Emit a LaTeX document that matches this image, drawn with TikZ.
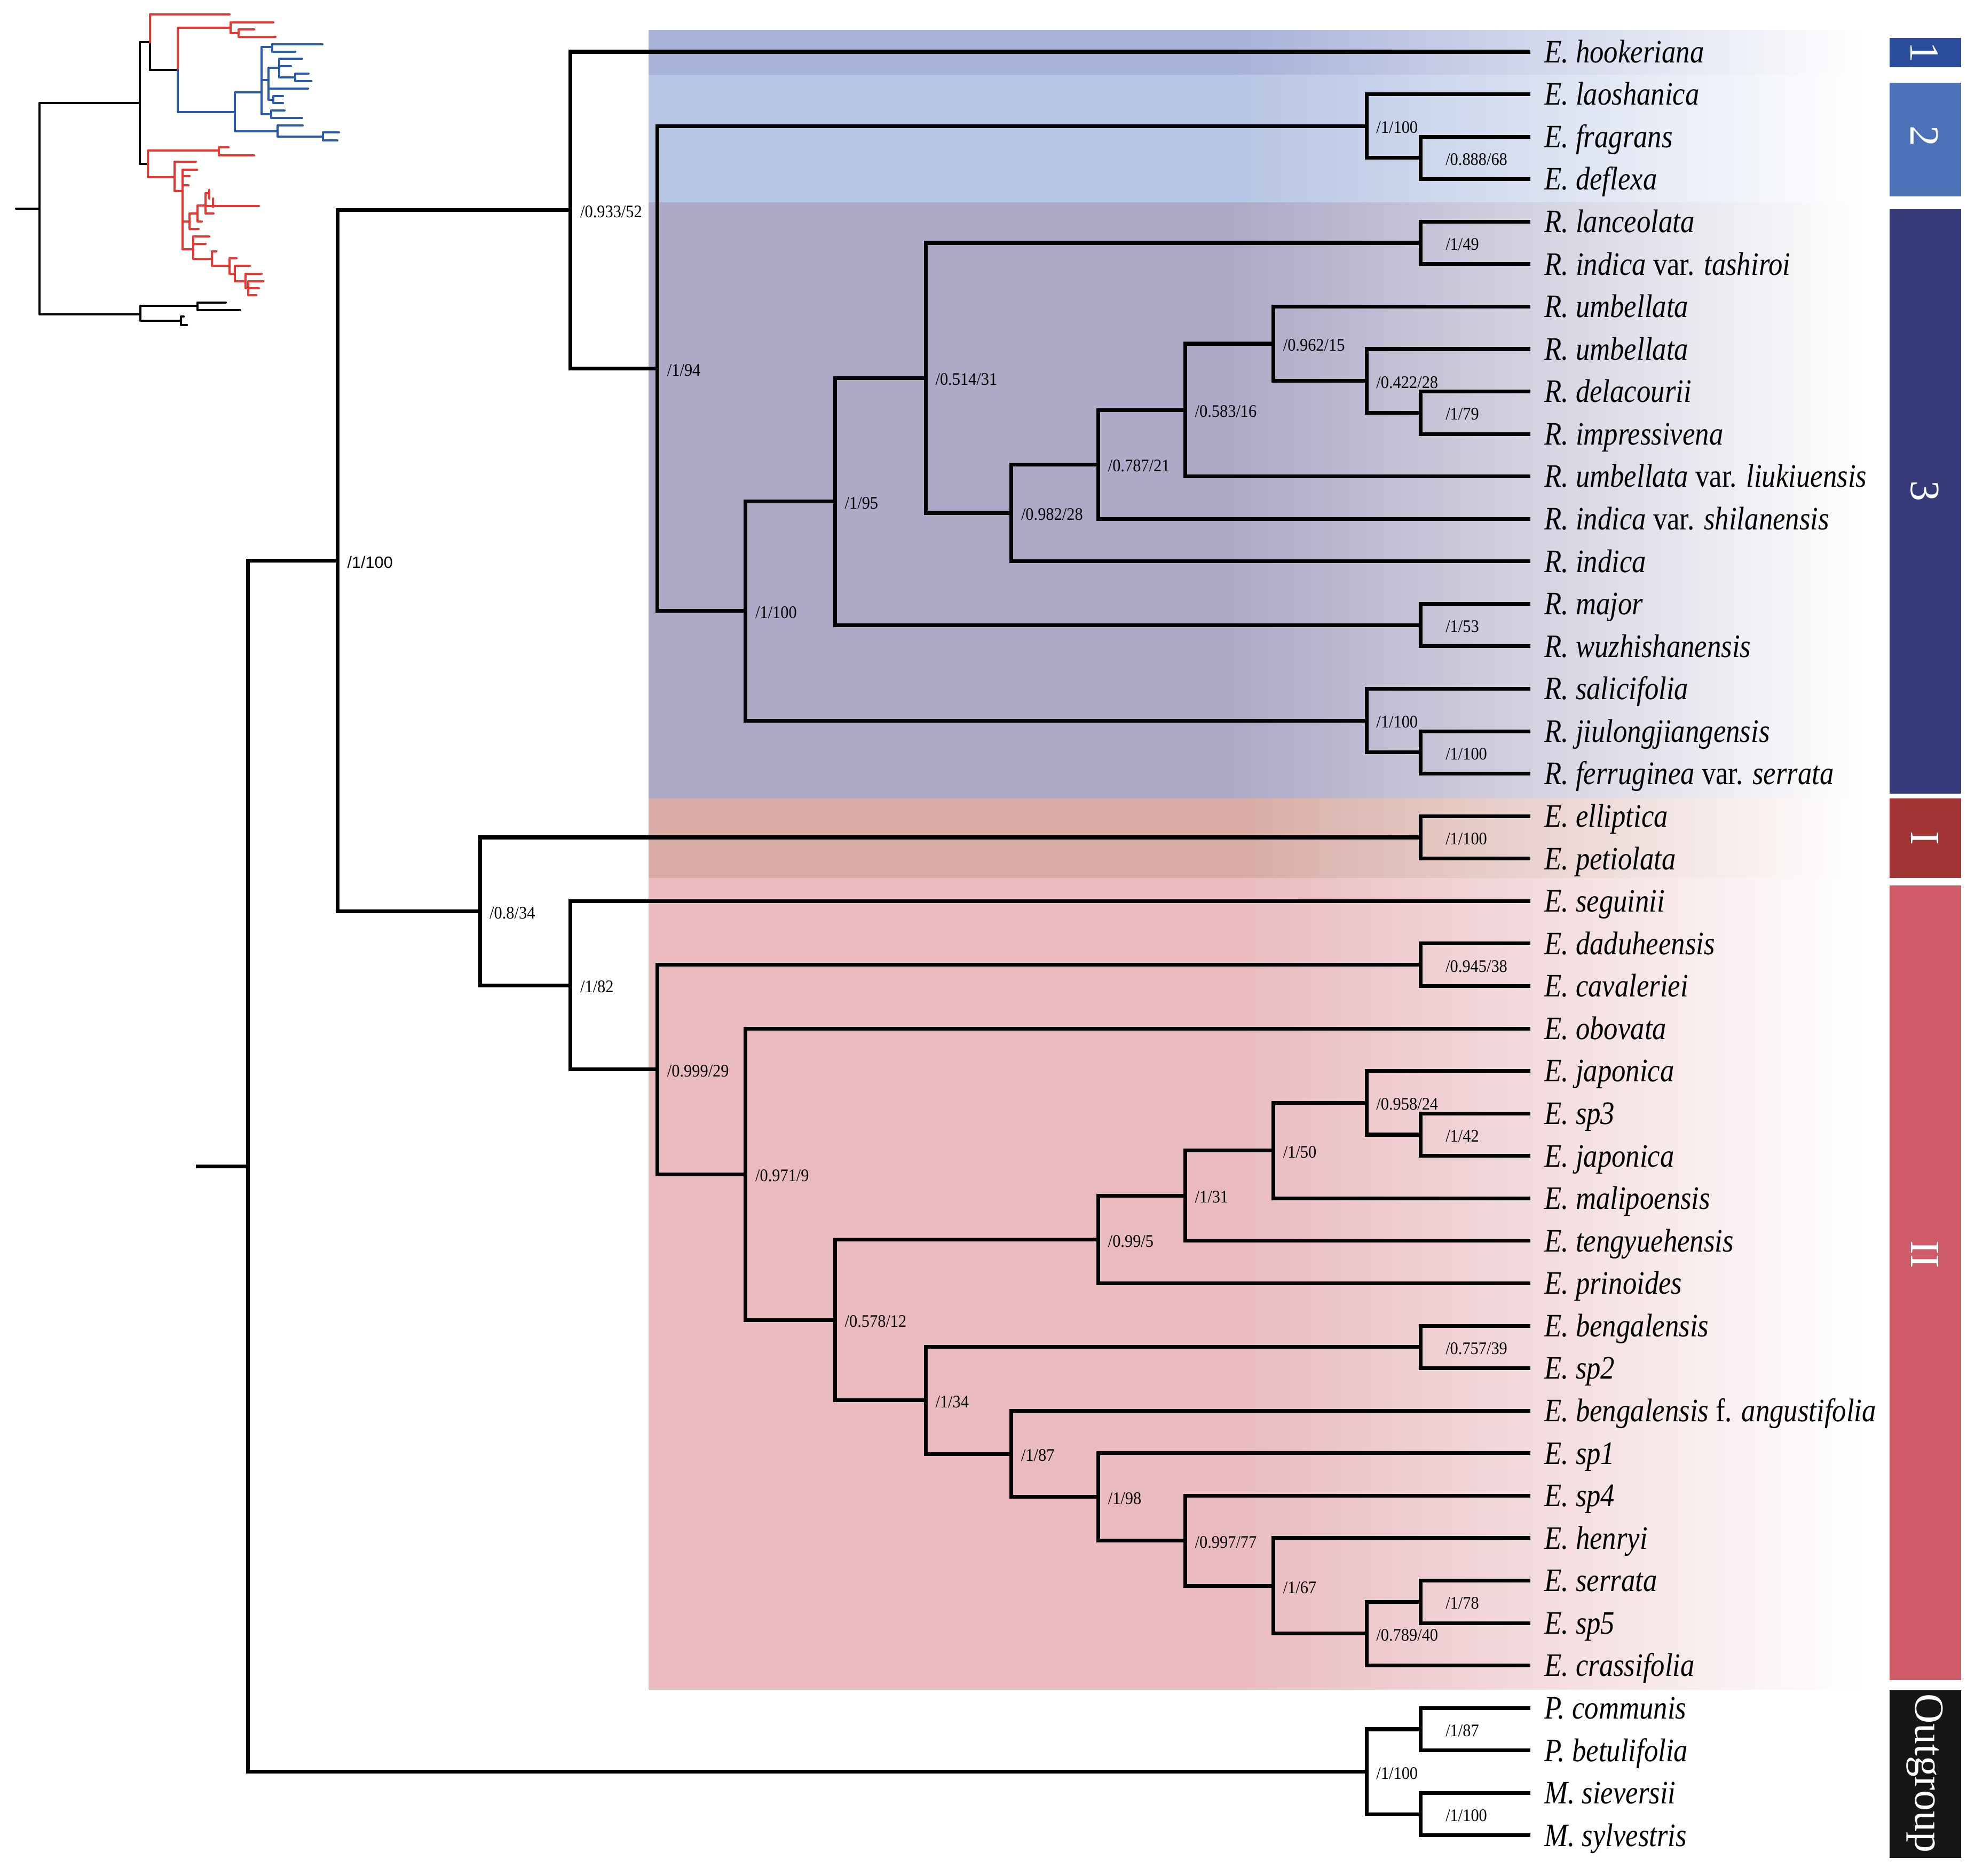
\documentclass[tikz,border=0pt]{standalone}
\usepackage{fontspec}
\setmainfont{Liberation Serif}
\newfontfamily\tipfont[FakeStretch=0.86]{Liberation Serif}
\newfontfamily\supfont[FakeStretch=0.92]{Liberation Serif}
\newfontfamily\supsans{Liberation Sans}
\definecolor{bandA}{HTML}{A7B2D9}
\definecolor{bandB}{HTML}{B6C5E4}
\definecolor{bandC}{HTML}{ACAAC6}
\definecolor{bandD}{HTML}{D8ABA4}
\definecolor{bandE}{HTML}{E9BABE}
\definecolor{barA}{HTML}{2B4C9B}
\definecolor{barB}{HTML}{4E72B8}
\definecolor{barC}{HTML}{373A78}
\definecolor{barD}{HTML}{A33434}
\definecolor{barE}{HTML}{D05B68}
\definecolor{barF}{HTML}{161616}
\definecolor{insetred}{HTML}{EE3530}
\definecolor{insetblue}{HTML}{2A5AAF}
\pgfdeclarehorizontalshading{shA}{100bp}{color(0bp)=(bandA); color(49bp)=(bandA); color(75bp)=(white); color(100bp)=(white)}
\pgfdeclarehorizontalshading{shB}{100bp}{color(0bp)=(bandB); color(49bp)=(bandB); color(75bp)=(white); color(100bp)=(white)}
\pgfdeclarehorizontalshading{shC}{100bp}{color(0bp)=(bandC); color(49bp)=(bandC); color(75bp)=(white); color(100bp)=(white)}
\pgfdeclarehorizontalshading{shD}{100bp}{color(0bp)=(bandD); color(49bp)=(bandD); color(75bp)=(white); color(100bp)=(white)}
\pgfdeclarehorizontalshading{shE}{100bp}{color(0bp)=(bandE); color(49bp)=(bandE); color(75bp)=(white); color(100bp)=(white)}
\tikzset{
  br/.style={line width=3pt, draw=black},
  tiplab/.style={anchor=base west, inner sep=0pt, yshift=-8.6pt,
    font=\tipfont\fontsize{26}{26}\selectfont\itshape},
  sup/.style={anchor=west, inner sep=0pt, xshift=7.5pt, yshift=-1.2pt,
    font=\supfont\fontsize{14}{14}\selectfont},
  supfar/.style={sup, xshift=12pt},
  barlab/.style={text=white, rotate=-90, inner sep=0pt,
    font=\fontsize{33}{33}\selectfont},
  ik/.style={line width=1.9pt, draw=black, line cap=round, line join=round},
  ir/.style={ik, draw=insetred},
  ib/.style={ik, draw=insetblue}
}
\begin{document}
\begin{tikzpicture}[x=1pt, y=-1pt]
\useasboundingbox (0,0) rectangle (1568,1489.6);
\fill[white] (0,0) rectangle (1568,1489.6);

% ---------- clade bands ----------
\foreach \s/\ya/\yb in {shA/24/59.5, shB/59.5/161, shC/161/634, shD/634/697.5, shE/697.5/1341.6}{
  \shade[shading=\s] (515,\ya) rectangle (1481,\yb);
}

% ---------- side bars ----------
\fill[barA] (1500,30) rectangle (1557,53.5);
\fill[barB] (1500,65.6) rectangle (1557,156);
\fill[barC] (1500,166) rectangle (1557,630);
\fill[barD] (1500,634) rectangle (1557,697);
\fill[barE] (1500,703) rectangle (1557,1334);
\fill[barF] (1500,1342) rectangle (1557,1475);
\node[barlab] (bl1) at (1528,41.7) {1};
\node[barlab] (bl2) at (1528,108) {2};
\node[barlab] (bl3) at (1528,390) {3};
\node[barlab] (blI) at (1528,665.5) {I};
\node[barlab] (blII) at (1528,996) {II};
\node[barlab] (blO) at (1528,1408) {Outgroup};

% ---------- main tree ----------
\begin{scope}[y=-33.72pt, yshift=-7.38pt]
\coordinate (rs) at (155.5,27.243);
\coordinate (root) at (197,27.243);
\coordinate (a1) at (268,12.986);
\coordinate (a2) at (453,4.730);
\coordinate (a3) at (522,8.460);
\coordinate (c2) at (1085,2.75);
\coordinate (c2b) at (1128,3.5);
\coordinate (c3) at (592,14.170);
\coordinate (c3a) at (663,11.590);
\coordinate (c3b) at (735,8.680);
\coordinate (c3c) at (1128,5.5);
\coordinate (c3d) at (803,11.859);
\coordinate (c3e) at (872,10.719);
\coordinate (c3f) at (941,9.4375);
\coordinate (c3g) at (1011,7.875);
\coordinate (c3h) at (1085,8.75);
\coordinate (c3i) at (1128,9.5);
\coordinate (c3j) at (1128,14.5);
\coordinate (c3k) at (1085,16.75);
\coordinate (c3l) at (1128,17.5);
\coordinate (b1) at (381,21.241);
\coordinate (bI) at (1128,19.5);
\coordinate (b2) at (453,22.983);
\coordinate (b3) at (522,24.966);
\coordinate (bd) at (1128,22.5);
\coordinate (b4) at (592,27.432);
\coordinate (b5) at (663,30.863);
\coordinate (b6) at (872,28.969);
\coordinate (b7) at (941,27.9375);
\coordinate (b8) at (1011,26.875);
\coordinate (b9) at (1085,25.75);
\coordinate (b10) at (1128,26.5);
\coordinate (b11) at (735,32.758);
\coordinate (b12) at (1128,31.5);
\coordinate (b13) at (803,34.016);
\coordinate (b14) at (872,35.031);
\coordinate (b15) at (941,36.0625);
\coordinate (b16) at (1011,37.125);
\coordinate (b17) at (1085,38.25);
\coordinate (b18) at (1128,37.5);
\coordinate (o1) at (1085,41.5);
\coordinate (o2) at (1128,40.5);
\coordinate (o3) at (1128,42.5);

\foreach \r/\txt in {
 1/E. hookeriana, 2/E. laoshanica, 3/E. fragrans, 4/E. deflexa,
 5/R. lanceolata, 6/R. indica {\upshape var.} tashiroi, 7/R. umbellata, 8/R. umbellata,
 9/R. delacourii, 10/R. impressivena, 11/R. umbellata {\upshape var.} liukiuensis,
 12/R. indica {\upshape var.} shilanensis, 13/R. indica, 14/R. major, 15/R. wuzhishanensis,
 16/R. salicifolia, 17/R. jiulongjiangensis, 18/R. ferruginea {\upshape var.} serrata,
 19/E. elliptica, 20/E. petiolata, 21/E. seguinii, 22/E. daduheensis, 23/E. cavaleriei,
 24/E. obovata, 25/E. japonica, 26/E. sp3, 27/E. japonica, 28/E. malipoensis,
 29/E. tengyuehensis, 30/E. prinoides, 31/E. bengalensis, 32/E. sp2,
 33/E. bengalensis {\upshape f.} angustifolia, 34/E. sp1, 35/E. sp4, 36/E. henryi,
 37/E. serrata, 38/E. sp5, 39/E. crassifolia, 40/P. communis, 41/P. betulifolia,
 42/M. sieversii, 43/M. sylvestris}{
  \coordinate (t\r) at (1215,\r);
  \node[tiplab] (l\r) at (1226,\r) {\txt};
}

\draw[br] (rs) -- (root);
\foreach \p/\c in {root/a1, root/o1, a1/a2, a1/b1, a2/t1, a2/a3, a3/c2, a3/c3,
  c2/t2, c2/c2b, c2b/t3, c2b/t4,
  c3/c3a, c3/c3k, c3a/c3b, c3a/c3j, c3b/c3c, c3b/c3d, c3c/t5, c3c/t6,
  c3d/c3e, c3d/t13, c3e/c3f, c3e/t12, c3f/c3g, c3f/t11, c3g/t7, c3g/c3h,
  c3h/t8, c3h/c3i, c3i/t9, c3i/t10, c3j/t14, c3j/t15, c3k/t16, c3k/c3l,
  c3l/t17, c3l/t18,
  b1/bI, b1/b2, bI/t19, bI/t20, b2/t21, b2/b3, b3/bd, b3/b4, bd/t22, bd/t23,
  b4/t24, b4/b5, b5/b6, b5/b11, b6/b7, b6/t30, b7/b8, b7/t29, b8/b9, b8/t28,
  b9/t25, b9/b10, b10/t26, b10/t27, b11/b12, b11/b13, b12/t31, b12/t32,
  b13/t33, b13/b14, b14/t34, b14/b15, b15/t35, b15/b16, b16/t36, b16/b17,
  b17/b18, b17/t39, b18/t37, b18/t38,
  o1/o2, o1/o3, o2/t40, o2/t41, o3/t42, o3/t43}{
  \draw[br] (\p) |- (\c);
}

% support values
\node[sup, font=\supsans\fontsize{13}{13}\selectfont] (sa1) at (a1) {/1/100};
\node[sup] (sa2) at (a2) {/0.933/52};
\node[sup] (sa3) at (a3) {/1/94};
\node[sup] (sc2) at (c2) {/1/100};
\node[supfar] (sc2b) at (c2b) {/0.888/68};
\node[sup] (sc3) at (c3) {/1/100};
\node[sup] (sc3a) at (c3a) {/1/95};
\node[sup] (sc3b) at (c3b) {/0.514/31};
\node[supfar] (sc3c) at (c3c) {/1/49};
\node[sup] (sc3d) at (c3d) {/0.982/28};
\node[sup] (sc3e) at (c3e) {/0.787/21};
\node[sup] (sc3f) at (c3f) {/0.583/16};
\node[sup] (sc3g) at (c3g) {/0.962/15};
\node[sup] (sc3h) at (c3h) {/0.422/28};
\node[supfar] (sc3i) at (c3i) {/1/79};
\node[supfar] (sc3j) at (c3j) {/1/53};
\node[sup] (sc3k) at (c3k) {/1/100};
\node[supfar] (sc3l) at (c3l) {/1/100};
\node[sup] (sb1) at (b1) {/0.8/34};
\node[supfar] (sbI) at (bI) {/1/100};
\node[sup] (sb2) at (b2) {/1/82};
\node[sup] (sb3) at (b3) {/0.999/29};
\node[supfar] (sbd) at (bd) {/0.945/38};
\node[sup] (sb4) at (b4) {/0.971/9};
\node[sup] (sb5) at (b5) {/0.578/12};
\node[sup] (sb6) at (b6) {/0.99/5};
\node[sup] (sb7) at (b7) {/1/31};
\node[sup] (sb8) at (b8) {/1/50};
\node[sup] (sb9) at (b9) {/0.958/24};
\node[supfar] (sb10) at (b10) {/1/42};
\node[sup] (sb11) at (b11) {/1/34};
\node[supfar] (sb12) at (b12) {/0.757/39};
\node[sup] (sb13) at (b13) {/1/87};
\node[sup] (sb14) at (b14) {/1/98};
\node[sup] (sb15) at (b15) {/0.997/77};
\node[sup] (sb16) at (b16) {/1/67};
\node[sup] (sb17) at (b17) {/0.789/40};
\node[supfar] (sb18) at (b18) {/1/78};
\node[sup] (so1) at (o1) {/1/100};
\node[supfar] (so2) at (o2) {/1/87};
\node[supfar] (so3) at (o3) {/1/100};
\end{scope}

% ---------- inset thumbnail tree ----------
\begin{scope}[x=0.4237pt, y=-0.4237pt]
\draw[ik] (30,391) -- (74,391);
\draw[ik] (262,193) -- (74,193) -- (74,589) -- (263,589);
\draw[ik] (281,131) -- (281,79) -- (262,79) -- (262,307) -- (277,307);
\draw[ik] (281,131) -- (333,131);
\draw[ik] (370,573) -- (263,573) -- (263,601) -- (339,601);
\draw[ik] (423,567) -- (370,567) -- (370,581) -- (450,581);
\draw[ik] (344,593) -- (339,593) -- (339,609) -- (350,609);
% red upper
\draw[ir] (281,79) -- (281,27) -- (430,27);
\draw[ir] (333,131) -- (333,52) -- (432,52);
\draw[ir] (512,42) -- (432,42) -- (432,62) -- (447,62);
\draw[ir] (476,55) -- (447,55) -- (447,69) -- (516,69);
% blue
\draw[ib] (333,131) -- (333,210) -- (440,210);
\draw[ib] (490,173) -- (440,173) -- (440,246) -- (520,246);
\draw[ib] (567,235) -- (520,235) -- (520,256) -- (605,256);
\draw[ib] (635,248) -- (605,248) -- (605,263) -- (632,263);
\draw[ib] (510,88) -- (490,88) -- (490,214) -- (508,214);
\draw[ib] (604,83) -- (510,83) -- (510,97) -- (553,97);
\draw[ib] (533,207) -- (508,207) -- (508,221) -- (566,221);
\draw[ib] (490,150) -- (503,150);
\draw[ib] (523,127) -- (503,127) -- (503,187) -- (512,187);
\draw[ib] (503,166) -- (577,166);
\draw[ib] (530,180) -- (512,180) -- (512,193) -- (530,193);
\draw[ib] (566,110) -- (523,110) -- (523,145) -- (553,145);
\draw[ib] (523,124) -- (545,124);
\draw[ib] (578,138) -- (553,138) -- (553,152) -- (583,152);
% red lower
\draw[ir] (410,282) -- (277,282) -- (277,332) -- (327,332);
\draw[ir] (428,276) -- (410,276) -- (410,291) -- (476,291);
\draw[ir] (367,303) -- (327,303) -- (327,358) -- (342,358);
\draw[ir] (369,318) -- (342,318) -- (342,467) -- (362,467);
\draw[ir] (342,330) -- (355,330);
\draw[ir] (342,347) -- (353,347);
\draw[ir] (342,415) -- (355,415);
\draw[ir] (370,400) -- (355,400) -- (355,429) -- (372,429);
\draw[ir] (385,385) -- (370,385) -- (370,415) -- (378,415);
\draw[ir] (392,362) -- (385,362) -- (385,400) -- (400,400);
\draw[ir] (385,386) -- (485,386);
\draw[ir] (392,356) -- (392,372);
\draw[ir] (399,372) -- (399,388);
\draw[ir] (392,443) -- (362,443) -- (362,485) -- (397,485);
\draw[ir] (362,457) -- (385,457);
\draw[ir] (405,471) -- (397,471) -- (397,498) -- (430,498);
\draw[ir] (443,484) -- (430,484) -- (430,513) -- (440,513);
\draw[ir] (468,498) -- (440,498) -- (440,527) -- (460,527);
\draw[ir] (490,513) -- (460,513) -- (460,540) -- (465,540);
\draw[ir] (493,527) -- (465,527) -- (465,553) -- (480,553);
\draw[ir] (465,540) -- (485,540);
\end{scope}
\end{tikzpicture}
\end{document}
